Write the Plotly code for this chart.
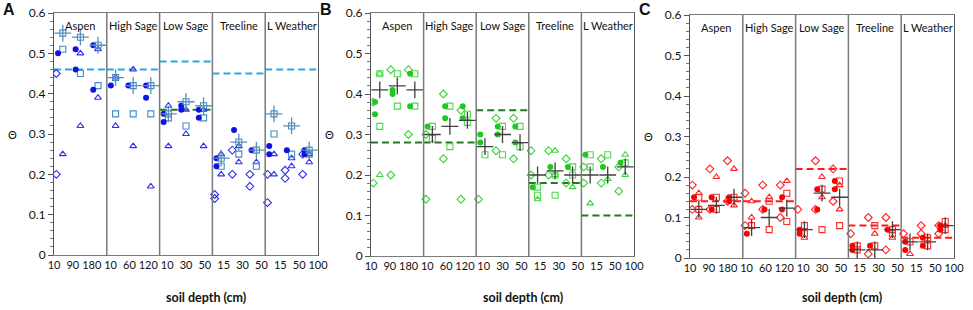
import plotly.graph_objects as go

sites = ["Aspen", "High Sage", "Low Sage", "Treeline", "L Weather"]
depth_labels = ["10", "90", "180", "10", "60", "120", "10", "30", "50",
                "15", "30", "50", "15", "50", "100"]
panel_letters = ["A", "B", "C"]

# values per site -> per depth -> list of points
A_circle = [[[0.50], [0.51, 0.46], [0.52, 0.41]],
            [[0.42], [0.42], [0.42, 0.39]],
            [[0.35, 0.33], [0.37, 0.36], [0.36, 0.34]],
            [[0.24, 0.22], [0.31], [0.26]],
            [[0.27, 0.25], [0.26], [0.26, 0.25]]]
A_square = [[[0.51], [0.45], [0.42]],
            [[0.35], [0.35], [0.35]],
            [[0.34], [0.32], [0.34]],
            [[0.22], [0.25], [0.22]],
            [[0.30], [0.25], [0.25]]]
A_triangle = [[[0.25], [0.50, 0.32], [0.51, 0.39]],
              [[0.44, 0.32], [0.46, 0.27], [0.17]],
              [[0.37, 0.27], [0.36, 0.30], [0.36, 0.27]],
              [[0.25, 0.20], [0.27, 0.23], [0.23]],
              [[0.25, 0.20], [0.24, 0.22], [0.25, 0.23]]]
A_diamond = [[[0.45, 0.20], [], []],
             [[], [], []],
             [[], [], []],
             [[0.15, 0.14], [0.26, 0.20], [0.20, 0.17]],
             [[0.20, 0.13], [0.21, 0.19], [0.25, 0.20]]]
A_mean = [[[0.55], [0.54], [0.52]],
          [[0.44], [0.42], [0.42]],
          [[0.35], [0.38], [0.37]],
          [[0.24], [0.28], [0.26]],
          [[0.35], [0.32], [0.26]]]
A_levels = [0.46, 0.46, 0.48, 0.45, 0.46]
A_extra_levels = [None, None, 0.36, None, None]

B_circle = [[[0.38, 0.35], [0.41, 0.40], [0.45, 0.37]],
            [[0.32], [0.37, 0.34], [0.37, 0.34]],
            [[0.30, 0.28], [0.32, 0.30], [0.32, 0.28]],
            [[0.17], [0.22], [0.22]],
            [[0.25], [0.22], [0.23]]]
B_square = [[[0.45, 0.32], [0.45, 0.37], [0.45, 0.37]],
            [[0.32, 0.29], [0.37, 0.27], [0.35, 0.33]],
            [[0.25], [0.32, 0.25], [0.32, 0.27]],
            [[0.17, 0.15], [0.20, 0.15], [0.22, 0.20]],
            [[0.25, 0.22], [0.25], [0.23]]]
B_triangle = [[[0.45, 0.20], [], []],
              [[], [], []],
              [[], [], []],
              [[0.14], [0.26, 0.20], [0.17]],
              [[0.13], [0.19], [0.25, 0.20]]]
B_diamond = [[[0.38, 0.18], [0.46, 0.20], [0.46, 0.30]],
             [[0.30, 0.14], [0.40, 0.24], [0.36, 0.14]],
             [[0.14], [0.34, 0.26], [0.34, 0.24]],
             [[0.26, 0.20], [0.26, 0.20], [0.24, 0.18]],
             [[0.22, 0.18], [0.24, 0.18], [0.22, 0.16]]]
B_mean = [[[0.41], [0.42], [0.41]],
          [[0.30], [0.32], [0.335]],
          [[0.27], [0.30], [0.28]],
          [[0.20], [0.21], [0.20]],
          [[0.20], [0.20], [0.22]]]
B_levels = [0.28, 0.28, 0.36, 0.18, 0.10]

C_circle = [[[0.15], [0.15, 0.12], [0.15, 0.14]],
            [[0.06], [0.12], [0.15, 0.12]],
            [[0.07, 0.06], [0.17, 0.12], [0.19, 0.17]],
            [[0.03, 0.02], [0.03], [0.07]],
            [[0.04, 0.02], [0.05, 0.03], [0.08, 0.07]]]
C_square = [[[0.15, 0.12], [0.15, 0.12], [0.15]],
            [[0.08], [0.14, 0.07], [0.16, 0.09]],
            [[0.08, 0.06], [0.17, 0.07], [0.19, 0.08]],
            [[0.03, 0.02], [0.08, 0.03], [0.07, 0.06]],
            [[0.04], [0.05, 0.03], [0.09, 0.07]]]
C_triangle = [[[0.16, 0.10], [0.20], [0.22, 0.13]],
              [[0.14, 0.10], [0.15], [0.19]],
              [[0.05], [0.20, 0.15], [0.18, 0.12]],
              [[], [0.06], [0.05]],
              [[0.01], [], [0.08]]]
C_diamond = [[[0.18, 0.12], [0.22, 0.12], [0.24, 0.14]],
             [[0.16, 0.08], [0.18, 0.12], [0.18, 0.10]],
             [[0.12], [0.24, 0.12], [0.22, 0.14]],
             [[0.06], [0.10, 0.01], [0.10, 0.02]],
             [[0.06], [0.08, 0.06], [0.08, 0.06]]]
C_mean = [[[0.12], [0.13], [0.15]],
          [[0.075], [0.10], [0.123]],
          [[0.07], [0.16], [0.15]],
          [[0.02], [0.02], [0.07]],
          [[0.04], [0.04], [0.08]]]
C_levels = [0.14, 0.14, 0.22, 0.08, 0.05]

FONT = "Lato"
n_sites = len(sites)
n_depth = 3
xmax = n_sites * n_depth
DASH = "7px,4px"


def pts(series, offset):
    xs, ys = [], []
    for s, site in enumerate(series):
        for d, vals in enumerate(site):
            for v in vals:
                xs.append(n_depth * s + d + offset)
                ys.append(v)
    return xs, ys


panels = [
    dict(circle=A_circle, square=A_square, tri=A_triangle, dia=A_diamond,
         mean=A_mean, levels=A_levels, extra=A_extra_levels,
         c_circle="#1010E8", c_square="#3F8CC6", c_open="#2F2FF2",
         c_mean="#5F8DB3", mean_box=True, c_level="#25A8E3",
         dom_x=[54, 318], dom_y=[255, 13]),
    dict(circle=B_circle, square=B_square, tri=B_triangle, dia=B_diamond,
         mean=B_mean, levels=B_levels, extra=None,
         c_circle="#1FC71F", c_square="#4CD84C", c_open="#3CD43C",
         c_mean="#404040", mean_box=False, c_level="#1E7B1E",
         dom_x=[371, 634], dom_y=[256, 13]),
    dict(circle=C_circle, square=C_square, tri=C_triangle, dia=C_diamond,
         mean=C_mean, levels=C_levels, extra=None,
         c_circle="#FF0000", c_square="#F23030", c_open="#FF2020",
         c_mean="#404040", mean_box=False, c_level="#FF1A1A",
         dom_x=[690, 954], dom_y=[258, 15]),
]

W, H = 973, 310


def px(xp):
    return xp / W


def py(yp):
    return (H - yp) / H


fig = go.Figure()
shapes = []
annotations = []

for i, p in enumerate(panels):
    sfx = "" if i == 0 else str(i + 1)
    xa, ya = "x" + sfx, "y" + sfx

    for s, lv in enumerate(p["levels"]):
        fig.add_trace(go.Scatter(x=[n_depth * s, n_depth * (s + 1)], y=[lv, lv],
                                 mode="lines", xaxis=xa, yaxis=ya, showlegend=False,
                                 line=dict(color=p["c_level"], width=2, dash=DASH)))
    if p["extra"]:
        for s, lv in enumerate(p["extra"]):
            if lv is None:
                continue
            fig.add_trace(go.Scatter(x=[n_depth * s, n_depth * (s + 1)], y=[lv, lv],
                                     mode="lines", xaxis=xa, yaxis=ya, showlegend=False,
                                     line=dict(color="#1E7B1E", width=2, dash=DASH)))

    def add(series, offset, symbol, color, size, lw=1.1):
        x, y = pts(series, offset)
        fig.add_trace(go.Scatter(x=x, y=y, mode="markers", xaxis=xa, yaxis=ya,
                                 showlegend=False,
                                 marker=dict(symbol=symbol, size=size, color=color,
                                             line=dict(color=color, width=lw))))

    add(p["dia"], 0.13, "diamond-open", p["c_open"], 6)
    add(p["tri"], 0.5, "triangle-up-open", p["c_open"], 6)
    add(p["square"], 0.5, "square-open", p["c_square"], 6)
    add(p["circle"], 0.23, "circle", p["c_circle"], 6, 0)
    if p["mean_box"]:
        add(p["mean"], 0.5, "square-open", p["c_square"], 6)
    add(p["mean"], 0.5, "cross-thin-open", p["c_mean"], 12, 1.3)

    x0, x1 = p["dom_x"]
    yb, yt = p["dom_y"]
    dx = [px(x0), px(x1)]
    dy = [py(yb), py(yt)]
    tickvals = [k * xmax / (len(depth_labels) - 1) for k in range(len(depth_labels))]
    fig.update_layout({
        "xaxis" + sfx: dict(domain=dx, range=[0, xmax], anchor=ya, automargin=False,
                            showline=True, linecolor="#7a7a7a", linewidth=1, mirror=True,
                            showgrid=False, zeroline=False, ticks="", tickangle=0,
                            tickvals=tickvals, ticktext=depth_labels,
                            tickfont=dict(family=FONT, size=11, color="#111")),
        "yaxis" + sfx: dict(domain=dy, range=[0, 0.6], anchor=xa, dtick=0.1,
                            automargin=False,
                            showline=True, linecolor="#555", linewidth=1, mirror=True,
                            showgrid=False, zeroline=False,
                            ticks="outside", ticklen=5, tickcolor="#555",
                            minor=dict(ticks="outside", ticklen=3, dtick=0.02,
                                       tickcolor="#777"),
                            tickfont=dict(family=FONT, size=12, color="#111")),
    })

    for s in range(1, n_sites):
        shapes.append(dict(type="line", xref=xa, yref=ya + " domain",
                           x0=n_depth * s, x1=n_depth * s, y0=0, y1=1,
                           line=dict(color="#7a7a7a", width=1.5)))
    for s, name in enumerate(sites):
        annotations.append(dict(x=n_depth * s + n_depth / 2, y=0.57, xref=xa, yref=ya,
                                text=name, showarrow=False, xanchor="center",
                                yanchor="middle",
                                font=dict(family=FONT, size=11, color="#111")))
    annotations.append(dict(x=px(x0 - 45), y=py(10), xref="paper", yref="paper",
                            text="<b>%s</b>" % panel_letters[i], showarrow=False,
                            xanchor="center", yanchor="middle",
                            font=dict(family="Liberation Sans", size=16, color="#111")))
    annotations.append(dict(x=px(x0 - 42), y=0.3, xref="paper", yref=ya,
                            text="Θ", showarrow=False, xanchor="center",
                            yanchor="middle",
                            font=dict(family=FONT, size=11, color="#111")))
    annotations.append(dict(x=px((x0 + x1) / 2 + 20), y=py(297),
                            xref="paper", yref="paper",
                            text="<b>soil depth (cm)</b>", showarrow=False,
                            xanchor="center", yanchor="middle",
                            font=dict(family=FONT, size=12.5, color="#111")))

fig.update_layout(width=W, height=H, margin=dict(l=0, r=0, t=0, b=0),
                  paper_bgcolor="white", plot_bgcolor="white",
                  shapes=shapes, annotations=annotations, showlegend=False)
fig.write_html("out.html",
               config={"displayModeBar": False},
               post_script="document.body.style.margin='0px';"
                           "document.body.style.padding='0px';")
